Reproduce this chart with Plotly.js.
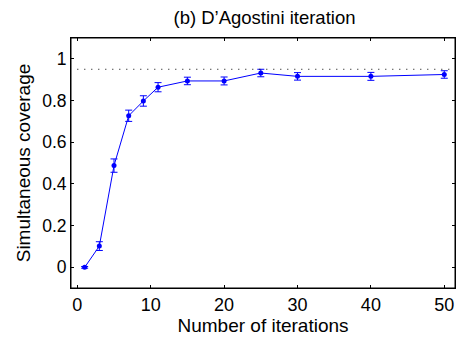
<!DOCTYPE html>
<html>
<head>
<meta charset="utf-8">
<script src="https://cdn.plot.ly/plotly-3.0.1.min.js"></script>
<style>html,body{margin:0;padding:0;background:#fff;}#chart{width:456px;height:339px;}</style>
</head>
<body>
<div id="chart"></div>
<script>
const iterations = [1, 3, 5, 7, 9, 11, 15, 20, 25, 30, 40, 50];
const coverage = [0.0, 0.102, 0.488, 0.727, 0.798, 0.864, 0.894, 0.894, 0.932, 0.916, 0.916, 0.925];
const coverageErr = [0.004, 0.021, 0.032, 0.027, 0.025, 0.022, 0.018, 0.019, 0.018, 0.018, 0.019, 0.018];
const targetLevel = 0.95;
const xTicks = [0, 10, 20, 30, 40, 50];
const yTicks = [0, 0.2, 0.4, 0.6, 0.8, 1];
const yTickLabels = ['0', '0.2', '0.4', '0.6', '0.8', '1'];

const FONT = 'Liberation Sans, Arial, Helvetica, sans-serif';

const trace = {
  x: iterations,
  y: coverage,
  type: 'scatter',
  mode: 'lines+markers',
  line: {color: '#0000ff', width: 1},
  marker: {color: '#0000ff', size: 5, symbol: 'circle'},
  error_y: {type: 'data', array: coverageErr, visible: true, color: '#0000ff', thickness: 1, width: 3.5},
  showlegend: false,
  hoverinfo: 'skip'
};

const layout = {
  width: 456,
  height: 339,
  margin: {l: 71, r: 1, t: 38, b: 51},
  paper_bgcolor: '#ffffff',
  plot_bgcolor: '#ffffff',
  font: {family: FONT, color: '#000', size: 18},
  title: {text: '(b) D\u2019Agostini iteration', font: {family: FONT, size: 18.5, color: '#000'}, x: 0.58, xanchor: 'center', y: 0.947, yanchor: 'middle'},
  xaxis: {
    range: [-0.86, 51.46],
    tickvals: xTicks,
    ticktext: xTicks.map(String),
    ticks: 'inside', ticklen: 3, tickwidth: 1, tickcolor: '#000',
    showline: true, linecolor: '#000', linewidth: 1, mirror: 'ticks',
    showgrid: false, zeroline: false,
    tickfont: {family: FONT, size: 18, color: '#000'},
    title: {text: 'Number of iterations', font: {family: FONT, size: 19, color: '#000'}, standoff: 5}
  },
  yaxis: {
    range: [-0.099, 1.1],
    tickvals: yTicks,
    ticktext: yTickLabels,
    ticks: 'inside', ticklen: 3, tickwidth: 1, tickcolor: '#000',
    showline: true, linecolor: '#000', linewidth: 1, mirror: 'ticks',
    showgrid: false, zeroline: false,
    tickfont: {family: FONT, size: 17.5, color: '#000'},
    title: {text: 'Simultaneous coverage', font: {family: FONT, size: 19, color: '#000'}, standoff: 6}
  },
  shapes: [{
    type: 'line', xref: 'x', yref: 'y',
    x0: 0, x1: 51.46, y0: targetLevel, y1: targetLevel,
    line: {color: '#000', width: 1, dash: '1px,6px'}
  }, {
    type: 'rect', xref: 'paper', yref: 'paper',
    x0: 0, x1: 1, y0: 0, y1: 1,
    line: {color: '#000', width: 1}, fillcolor: 'rgba(0,0,0,0)'
  }]
};

Plotly.newPlot('chart', [trace], layout, {staticPlot: true, displayModeBar: false});
</script>
</body>
</html>
